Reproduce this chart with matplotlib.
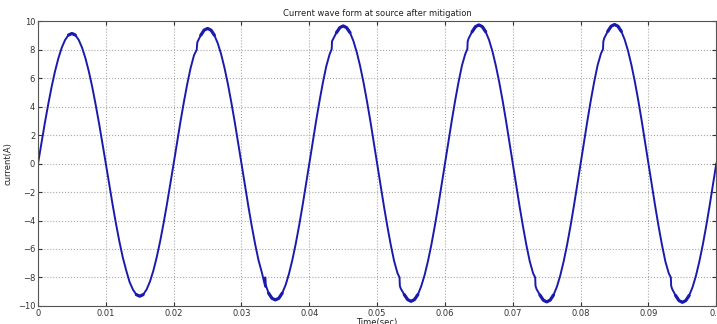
import numpy as np
import matplotlib
matplotlib.use("Agg")
import matplotlib.pyplot as plt

sample_step = 0.0005
current = [
    0, 1.43, 2.83, 4.15, 5.38, 6.47, 7.40, 8.15, 8.70, 9.04, 9.15, 9.04, 8.70, 8.15, 7.40, 6.47, 5.38, 4.15, 2.83, 1.43,
    0, -1.45, -2.88, -4.23, -5.48, -6.59, -7.50, -8.32, -8.86, -9.21, -9.32, -9.21, -8.86, -8.30, -7.54, -6.59, -5.48, -4.23, -2.88, -1.45,
    0, 1.48, 2.94, 4.31, 5.59, 6.72, 7.62, 8.55, 9.03, 9.39, 9.50, 9.39, 9.03, 8.46, 7.69, 6.72, 5.59, 4.31, 2.94, 1.48,
    0, -1.49, -2.96, -4.35, -5.63, -6.77, -7.65, -8.65, -9.11, -9.47, -9.58, -9.47, -9.11, -8.54, -7.75, -6.77, -5.63, -4.35, -2.96, -1.49,
    0, 1.51, 2.99, 4.39, 5.69, 6.84, 7.70, 8.75, 9.21, 9.56, 9.68, 9.56, 9.21, 8.62, 7.83, 6.84, 5.69, 4.39, 2.99, 1.51,
    0, -1.51, -2.99, -4.39, -5.69, -6.84, -7.70, -8.80, -9.21, -9.56, -9.68, -9.56, -9.21, -8.62, -7.83, -6.84, -5.69, -4.39, -2.99, -1.51,
    0, 1.52, 3.01, 4.43, 5.73, 6.89, 7.72, 8.82, 9.27, 9.63, 9.75, 9.63, 9.27, 8.69, 7.89, 6.89, 5.73, 4.43, 3.01, 1.52,
    0, -1.52, -3.00, -4.41, -5.72, -6.87, -7.72, -8.82, -9.24, -9.60, -9.72, -9.60, -9.24, -8.66, -7.86, -6.87, -5.72, -4.41, -3.00, -1.52,
    0, 1.53, 3.02, 4.44, 5.75, 6.91, 7.74, 8.84, 9.30, 9.66, 9.78, 9.66, 9.30, 8.71, 7.91, 6.91, 5.75, 4.44, 3.02, 1.53,
    0, -1.52, -3.01, -4.43, -5.73, -6.89, -7.72, -8.82, -9.27, -9.63, -9.75, -9.63, -9.27, -8.69, -7.89, -6.89, -5.73, -4.43, -3.01, -1.52,
    0,
]

# small steps in the trace where the filter kicks in
notch_time = [0.0134, 0.0234, 0.0335, 0.0433, 0.0533, 0.0633, 0.0733, 0.0833, 0.0933]
notch_low = [-8.15, 8.00, -8.00, 8.05, -8.00, 8.05, -8.00, 8.05, -8.00]
notch_high = [-8.25, 8.35, -8.50, 8.60, -8.60, 8.60, -8.60, 8.60, -8.60]

xticks = [0, 0.01, 0.02, 0.03, 0.04, 0.05, 0.06, 0.07, 0.08, 0.09, 0.1]
xtick_labels = ["0", "0.01", "0.02", "0.03", "0.04", "0.05", "0.06", "0.07", "0.08", "0.09", "0.1"]
yticks = [-10, -8, -6, -4, -2, 0, 2, 4, 6, 8, 10]

t = np.arange(len(current)) * sample_step
nt = np.array(notch_time)
t_all = np.concatenate([t, nt, nt + 0.00005])
i_all = np.concatenate([current, notch_low, notch_high])
order = np.argsort(t_all, kind="stable")
t_all, i_all = t_all[order], i_all[order]

fig = plt.figure(figsize=(7.17, 3.24), dpi=100)
ax = fig.add_axes([0.053, 0.056, 0.946, 0.878])

line_color = "#1a1aac"
ax.plot(t_all, i_all, color=line_color, lw=1.4)
# ripple band near the peaks makes the trace look a bit thicker there
thick = np.where(np.abs(i_all) > 9.0, i_all, np.nan)
ax.plot(t_all, thick, color=line_color, lw=2.3, solid_capstyle="round")

ax.set_xlim(0, 0.1)
ax.set_ylim(-10, 10)
ax.set_xticks(xticks)
ax.set_xticklabels(xtick_labels)
ax.set_yticks(yticks)
ax.grid(True, linestyle=":", color="#a8a8a8", lw=0.8)
ax.tick_params(direction="in", top=True, right=True, labelsize=6, colors="#333333", length=3, pad=2)
for s in ax.spines.values():
    s.set_color("#555555")
    s.set_linewidth(0.8)

ax.set_title("Current wave form at source after mitigation", fontsize=6, color="#222222", pad=4)
ax.set_xlabel("Time(sec)", fontsize=6, color="#222222", labelpad=0)
ax.set_ylabel("current(A)", fontsize=6, color="#222222", labelpad=4)

fig.savefig("out.png", dpi=100)
